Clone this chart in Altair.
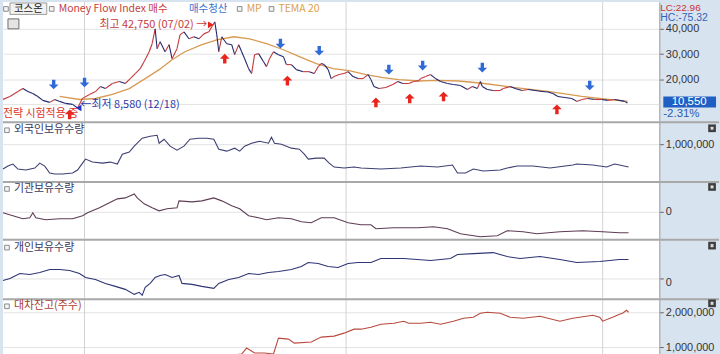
import altair as alt
import pandas as pd

# ---------------- data (trading-day index, value) ----------------
price_day = [0, 7, 15, 20, 25, 30, 35, 40, 47, 52,
             57, 63, 70, 75, 80, 87, 93, 98, 103, 110,
             117, 123, 128, 133, 138, 142, 147, 150, 153, 155,
             158, 163, 167, 170, 175, 178, 182, 187, 192, 197,
             202, 207, 210, 213, 215, 217, 220, 225, 230, 233,
             237, 240, 243, 247, 250, 253, 257, 262, 265, 268,
             272, 277, 282, 285, 290, 295, 302, 308, 313, 317,
             320, 323, 327, 330, 333, 338, 343, 347, 352, 357,
             362, 367, 370, 373, 378, 385, 392, 397, 402, 408,
             413, 418, 420, 425, 430, 435, 440, 447, 453, 460,
             467, 472, 477, 480, 482, 487, 493, 500, 503, 510,
             515, 522, 528, 535, 542, 548, 553, 558, 565, 572,
             577, 582, 588, 595, 602, 608, 615, 620, 625, 628]
price_val = [12000, 13150, 15100, 16300, 15100, 14350, 13150, 11600, 10800, 11950,
             11200, 10400, 10000, 8580, 12400, 13950, 15100, 17100, 16300, 18300,
             19100, 18300, 20250, 22250, 24200, 27000, 30900, 34100, 40000, 32100,
             34900, 30900, 33700, 28150, 32100, 37600, 38800, 36050, 36850, 36050,
             38000, 38800, 40800, 42750, 37600, 30900, 36850, 34100, 33700, 29750,
             33700, 30900, 28150, 24200, 22250, 29750, 30150, 26950, 25000, 28150,
             30900, 29750, 28950, 25800, 25800, 23800, 23000, 23000, 22250, 25000,
             26200, 25800, 23800, 20250, 21050, 21850, 22250, 23000, 21050, 20250,
             20250, 21850, 19850, 17100, 16300, 16700, 17900, 19100, 18300, 18300,
             19100, 19450, 20250, 21050, 21850, 20250, 19100, 18300, 17900, 17500,
             15900, 17100, 16300, 19100, 17100, 15900, 15500, 15500, 16300, 17100,
             16300, 15500, 15900, 15500, 15150, 14900, 14350, 13150, 12750, 12350,
             11200, 11950, 12350, 11950, 11950, 11600, 11950, 11600, 11200, 10550]

mp_day = [57, 77, 93, 110, 127, 143, 157, 170, 183, 200,
          215, 232, 248, 265, 282, 298, 315, 332, 348, 365,
          382, 398, 418, 435, 458, 482, 515, 548, 582, 602, 628]
mp_val = [13150, 11950, 12350, 13950, 16300, 20250, 23800, 27750, 30900, 33700,
          35650, 36850, 36050, 34100, 31700, 28950, 26200, 24200, 23400, 21850,
          20650, 19850, 19300, 19500, 19300, 18400, 16700, 15150, 13150, 12250, 11200]

buy_day = [67, 223, 286, 375, 409, 443, 557]
buy_val = [6050, 28150, 19450, 10800, 12350, 13150, 8050]
exit_day = [51, 82, 279, 318, 388, 422, 482, 590]
exit_val = [17900, 18700, 34100, 31300, 23800, 25400, 24600, 17500]

year_start_day = [82, 345, 603]

foreign_day = [0, 5, 10, 15, 23, 32, 37, 42, 47, 52,
               60, 70, 75, 80, 83, 90, 100, 108, 115, 120,
               127, 132, 140, 148, 155, 157, 162, 168, 175, 182,
               188, 197, 205, 212, 217, 225, 233, 238, 243, 250,
               258, 267, 270, 273, 280, 290, 298, 303, 307, 315,
               323, 328, 333, 343, 353, 360, 380, 400, 420, 437,
               452, 457, 465, 473, 483, 500, 507, 517, 533, 550,
               573, 577, 593, 607, 615, 620, 629]
foreign_val = [500000, 560000, 600000, 500000, 480000, 520000, 620000, 560000, 420000, 400000,
               400000, 420000, 480000, 620000, 700000, 640000, 620000, 640000, 600000, 800000,
               840000, 960000, 1120000, 1160000, 1180000, 1020000, 1100000, 960000, 880000, 960000,
               1100000, 1120000, 1120000, 1100000, 900000, 860000, 920000, 860000, 960000, 1020000,
               1060000, 1020000, 1140000, 1020000, 1000000, 920000, 900000, 800000, 700000, 720000,
               720000, 620000, 540000, 520000, 540000, 520000, 500000, 520000, 560000, 540000,
               580000, 420000, 420000, 500000, 460000, 480000, 520000, 560000, 560000, 520000,
               580000, 600000, 580000, 540000, 600000, 580000, 540000]

inst_day = [0, 10, 20, 27, 30, 33, 43, 57, 70, 80,
            85, 97, 107, 115, 123, 132, 135, 142, 150, 157,
            165, 175, 177, 190, 200, 212, 220, 230, 238, 247,
            257, 265, 277, 290, 300, 310, 320, 333, 347, 360,
            370, 375, 393, 417, 433, 447, 460, 480, 497, 507,
            523, 537, 560, 583, 603, 620, 629]
inst_val = [-20000, -80000, -140000, -120000, -20000, -120000, -160000, -140000, -140000, -80000,
            -20000, 80000, 180000, 260000, 280000, 360000, 280000, 160000, 80000, 20000,
            60000, 80000, 220000, 200000, 220000, 280000, 220000, 120000, 60000, -80000,
            -120000, -160000, -120000, -140000, -200000, -220000, -120000, -120000, -220000, -260000,
            -260000, -340000, -320000, -320000, -300000, -340000, -440000, -500000, -480000, -380000,
            -400000, -440000, -400000, -380000, -400000, -420000, -420000]

indiv_day = [0, 7, 17, 27, 37, 47, 57, 67, 77, 83,
             93, 103, 113, 123, 132, 137, 140, 143, 148, 153,
             158, 163, 170, 177, 180, 190, 200, 212, 217, 227,
             237, 247, 257, 267, 277, 290, 300, 307, 317, 327,
             337, 347, 357, 370, 380, 403, 430, 450, 457, 473,
             493, 507, 520, 540, 560, 577, 600, 620, 629]
indiv_val = [-40000, 0, 100000, 80000, 120000, 180000, 180000, 160000, 100000, 20000,
             -20000, -100000, -160000, -220000, -320000, -280000, -340000, -180000, -100000, 20000,
             60000, 80000, 20000, 60000, -100000, -120000, -160000, -200000, -100000, -20000,
             20000, 100000, 80000, 120000, 140000, 180000, 240000, 320000, 300000, 240000,
             220000, 300000, 320000, 320000, 400000, 400000, 360000, 400000, 480000, 500000,
             520000, 440000, 400000, 440000, 380000, 320000, 340000, 380000, 380000]

loan_day = [228, 240, 245, 253, 263, 272, 277, 287, 293, 310,
            320, 333, 343, 353, 360, 370, 380, 393, 403, 408,
            420, 430, 440, 453, 463, 473, 480, 487, 500, 510,
            523, 540, 560, 573, 593, 600, 603, 613, 620, 623,
            627, 629]
loan_val = [760000, 800000, 971000, 829000, 829000, 800000, 1257000, 1229000, 1114000, 1143000,
            1286000, 1314000, 1400000, 1514000, 1514000, 1571000, 1657000, 1686000, 1743000, 1686000,
            1686000, 1714000, 1657000, 1743000, 1829000, 1857000, 1971000, 2000000, 1971000, 1857000,
            1829000, 1886000, 1743000, 1829000, 1914000, 1857000, 1743000, 1857000, 1943000, 1971000,
            2057000, 2000000]

last_price_label = "10,550"
last_change_label = "-2.31%"

# ---------------- styling ----------------
W = 660
BG = "#d8e3f0"
KFONT = "Noto Sans CJK KR"
BLUE = "#3a70cf"
ORANGE = "#e0a048"
GRID = "#e2e2e2"
DOWN_ARROW = "M-0.35,-1L0.35,-1L0.35,0L1,0L0,1L-1,0L-0.35,0Z"
UP_ARROW = "M-0.35,1L0.35,1L0.35,0L1,0L0,-1L-1,0L-0.35,0Z"

xsc = alt.Scale(domain=[0, W], nice=False, zero=False)


def X(field="d"):
    return alt.X(f"{field}:Q", scale=xsc, axis=None)


def make_y(domain, values, label_offset=0):
    sc = alt.Scale(domain=domain, nice=False, zero=False)
    ax = alt.Axis(values=values, orient="right", format=",d", title=None,
                  labelOffset=label_offset)
    return lambda field="v": alt.Y(f"{field}:Q", scale=sc, axis=ax)


def txt(s, x, y, color, size=11, font=KFONT, align="left"):
    return alt.Chart(pd.DataFrame({"t": [s]})).mark_text(
        align=align, baseline="middle", font=font, fontSize=size, color=color
    ).encode(x=alt.value(x), y=alt.value(y), text="t:N")


def small_square(x, y):
    return alt.Chart(pd.DataFrame({"a": [0]})).mark_point(
        shape="square", size=22, filled=True, fill="#f4f4f4", stroke="#8c8c8c",
        strokeWidth=1, opacity=1
    ).encode(x=alt.value(x), y=alt.value(y))


def close_icon(y):
    box = alt.Chart(pd.DataFrame({"a": [0]})).mark_point(
        shape="square", size=60, filled=True, color="#3e3e3e", opacity=1
    ).encode(x=alt.value(713), y=alt.value(y))
    cross = alt.Chart(pd.DataFrame({"a": [0]})).mark_point(
        shape="cross", size=14, filled=True, color="#dddddd", angle=45, opacity=1
    ).encode(x=alt.value(713), y=alt.value(y))
    return box + cross


def divider():
    return alt.Chart(pd.DataFrame({"a": [0]})).mark_rule(
        color="#a8a8a8", strokeWidth=2
    ).encode(x=alt.value(0), x2=alt.value(720), y=alt.value(1))


def year_lines():
    return alt.Chart(pd.DataFrame({"d": year_start_day})).mark_rule(
        color="#d2d2d2", strokeWidth=1
    ).encode(x=X())


# ---------------- panel 1: price ----------------
Y1 = make_y([3290, 50660], [20000, 30000, 40000])

seg = pd.DataFrame({
    "d": price_day[:-1], "d2": price_day[1:],
    "v": price_val[:-1], "v2": price_val[1:],
})
seg["dir"] = ["up" if b >= a else "down" for a, b in zip(seg["v"], seg["v2"])]

grid10k = alt.Chart(pd.DataFrame({"v": [10000]})).mark_rule(color=GRID).encode(y=Y1())
price_layer = alt.Chart(seg).mark_rule(strokeWidth=1.1).encode(
    x=X(), x2="d2:Q", y=Y1(), y2="v2:Q",
    color=alt.Color("dir:N", scale=alt.Scale(domain=["up", "down"],
                                             range=["#c23a3e", "#23276e"]),
                    legend=None),
)
mp_layer = alt.Chart(pd.DataFrame({"d": mp_day, "v": mp_val})).mark_line(
    color="#d89a52", strokeWidth=1.3
).encode(x=X(), y=Y1())
buy_layer = alt.Chart(pd.DataFrame({"d": buy_day, "v": buy_val})).mark_point(
    shape=UP_ARROW, size=95, filled=True, color="#e8241c", opacity=1
).encode(x=X(), y=Y1())
exit_layer = alt.Chart(pd.DataFrame({"d": exit_day, "v": exit_val})).mark_point(
    shape=DOWN_ARROW, size=95, filled=True, color="#2f6ad6", opacity=1
).encode(x=X(), y=Y1())

hi_tri = alt.Chart(pd.DataFrame({"d": [209], "v": [41600]})).mark_point(
    shape="triangle-right", size=45, filled=True, color="#e8241c", opacity=1
).encode(x=X(), y=Y1())
lo_tri = alt.Chart(pd.DataFrame({"d": [76], "v": [8580]})).mark_point(
    shape="triangle-left", size=45, filled=True, color="#2233cc", opacity=1
).encode(x=X(), y=Y1())

btn = alt.Chart(pd.DataFrame({"a": [0]})).mark_rect(
    fill="#f2f2f2", stroke="#9a9a9a", strokeWidth=1
).encode(x=alt.value(7), x2=alt.value(44), y=alt.value(1), y2=alt.value(12.5))
cal_icon = alt.Chart(pd.DataFrame({"a": [0]})).mark_rect(
    fill="#e4e4e4", stroke="#6e6e6e", strokeWidth=1
).encode(x=alt.value(5), x2=alt.value(16), y=alt.value(17), y2=alt.value(27))

box = alt.Chart(pd.DataFrame({"a": [0]})).mark_rect(fill="#1f5fc4").encode(
    x=alt.value(664), x2=alt.value(717), y=alt.value(95), y2=alt.value(106))

p1 = alt.layer(
    year_lines(), grid10k, mp_layer, price_layer, buy_layer, exit_layer, hi_tri, lo_tri,
    btn, cal_icon,
    small_square(3, 7), txt("코스온", 11, 7.2, "#222222", size=10.5),
    small_square(49, 7), txt("Money Flow Index 매수", 56, 7.2, "#c8403a", size=10.5),
    txt("매수청산", 187, 7.2, BLUE, size=10.5),
    small_square(238, 7), txt("MP", 245, 7.2, ORANGE, size=10.5),
    small_square(270, 7), txt("TEMA 20", 277, 7.2, ORANGE, size=10.5),
    txt("최고 42,750 (07/02) →", 97, 23, "#c83a3a"),
    txt("←최저 8,580 (12/18)", 78, 104, "#2b3aa8"),
    txt("전략 시험적용 중", 0, 113, "#e0342a"),
    box, txt(last_price_label, 690, 100.5, "white", size=11.5, font="Liberation Sans", align="center"),
    txt(last_change_label, 664, 113, "#2a5db0", size=11.5, font="Liberation Sans"),
    txt("LC:22.96", 661, 5.8, "#cc3333", size=10, font="Liberation Sans"),
    txt("HC:-75.32", 661, 16.5, "#2f64b8", size=10.5, font="Liberation Sans"),
).properties(width=W, height=120)

# ---------------- panel 2: foreign holdings ----------------
Y2 = make_y([260000, 1460000], [1000000])
p2 = alt.layer(
    year_lines(),
    alt.Chart(pd.DataFrame({"d": foreign_day, "v": foreign_val})).mark_line(
        color="#3d3f72", strokeWidth=1.1).encode(x=X(), y=Y2()),
    divider(), small_square(4, 9), txt("외국인보유수량", 11, 9, "#3a3a60"),
    close_icon(7),
).properties(width=W, height=60)

# ---------------- panel 3: institutional holdings ----------------
Y3 = make_y([-540000, 620000], [0])
p3 = alt.layer(
    year_lines(),
    alt.Chart(pd.DataFrame({"d": inst_day, "v": inst_val})).mark_line(
        color="#5e3c55", strokeWidth=1.1).encode(x=X(), y=Y3()),
    divider(), small_square(4, 8), txt("기관보유수량", 11, 8, "#3a3a60"),
    close_icon(6),
).properties(width=W, height=58)

# ---------------- panel 4: individual holdings ----------------
Y4 = make_y([-400000, 800000], [0], label_offset=4)
p4 = alt.layer(
    year_lines(),
    alt.Chart(pd.DataFrame({"d": indiv_day, "v": indiv_val})).mark_line(
        color="#2e3474", strokeWidth=1.1).encode(x=X(), y=Y4()),
    divider(), small_square(4, 9), txt("개인보유수량", 11, 9, "#3a3a60"),
    close_icon(7),
).properties(width=W, height=60)

# ---------------- panel 5: stock lending balance ----------------
Y5 = make_y([800000, 2400000], [1000000, 2000000])
p5 = alt.layer(
    year_lines(),
    alt.Chart(pd.DataFrame({"d": loan_day, "v": loan_val})).mark_line(
        color="#b84a3e", strokeWidth=1.1, clip=True).encode(x=X(), y=Y5()),
    divider(), small_square(4, 8), txt("대차잔고(주수)", 11, 8, "#a8402f"),
    close_icon(5),
).properties(width=W, height=56)

chart = alt.vconcat(p1, p2, p3, p4, p5, spacing=0, bounds="flush").resolve_scale(
    y="independent"
).properties(
    padding=0, background=BG
).configure_view(
    strokeWidth=0, fill="white"
).configure_axis(
    labelFont="Liberation Sans", labelFontSize=11, labelColor="#333333",
    tickColor="#666666", tickSize=4, labelPadding=2,
    domainColor="#9c9c9c", gridColor=GRID,
    minExtent=60, maxExtent=60,
)

chart.save("out.html", embed_options={"renderer": "svg", "actions": False})
